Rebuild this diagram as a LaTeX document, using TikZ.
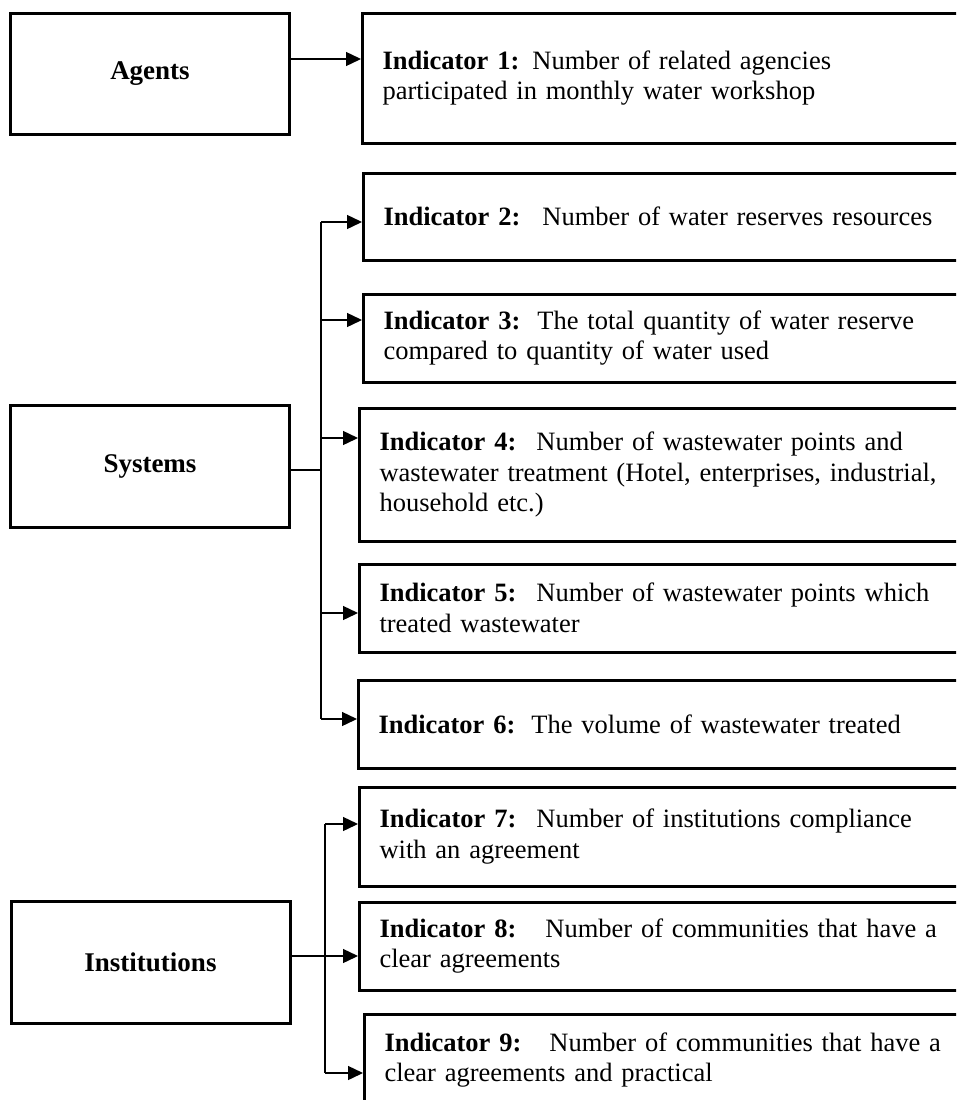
\documentclass[tikz,border=0pt]{standalone}
\usepackage{fontspec}
\setmainfont{Liberation Serif}
\usetikzlibrary{arrows.meta}
\begin{document}
\begin{tikzpicture}[x=1pt,y=-1pt,
  font=\fontsize{26.5}{30.5}\selectfont,
  catbox/.style={draw=black, line width=3pt, minimum width=279pt, minimum height=122pt, font=\fontsize{27}{30.5}\selectfont\bfseries, inner sep=0pt},
  indbox/.style={draw=black, line width=3pt, anchor=west, text width=700pt, align=left, inner xsep=20pt, inner ysep=0pt},
  link/.style={draw=black, line width=1.4pt},
  arr/.style={link, -{Triangle[length=15pt,width=14pt]}}
]
\useasboundingbox (0,0) rectangle (956,1100);
\clip (0,0) rectangle (956,1100);

% category boxes
\node[catbox, minimum height=121pt] (agents) at (150,73.5) {Agents};
\node[catbox] (sys) at (150,466) {Systems};
\node[catbox] (inst) at (150.5,962) {Institutions};

% indicator boxes
\node[indbox, minimum height=130pt] (ind1) at (361,78) {\textbf{Indicator 1:}\hspace{13pt}Number of related agencies\\participated in monthly water workshop};
\node[indbox, minimum height=87pt] (ind2) at (362,216.5) {\textbf{Indicator 2:}\hspace{22pt}Number of water reserves resources};
\node[indbox, minimum height=88pt] (ind3) at (362,338) {\textbf{Indicator 3:}\hspace{17pt}The total quantity of water reserve\\compared to quantity of water used};
\node[indbox, minimum height=133pt] (ind4) at (358,474.5) {\textbf{Indicator 4:}\hspace{20pt}Number of wastewater points and\\wastewater treatment (Hotel, enterprises, industrial,\\household etc.)};
\node[indbox, minimum height=88pt] (ind5) at (358,608) {\textbf{Indicator 5:}\hspace{20pt}Number of wastewater points which\\treated wastewater};
\node[indbox, minimum height=88pt] (ind6) at (357,724) {\textbf{Indicator 6:}\hspace{16pt}The volume of wastewater treated};
\node[indbox, minimum height=99pt] (ind7) at (358,836.5) {\textbf{Indicator 7:}\hspace{20pt}Number of institutions compliance\\with an agreement};
\node[indbox, minimum height=88pt] (ind8) at (358,946) {\textbf{Indicator 8:}\hspace{29pt}Number of communities that have a\\clear agreements};
\node[indbox, minimum height=92pt] (ind9) at (363,1060) {\textbf{Indicator 9:}\hspace{28pt}Number of communities that have a\\clear agreements and practical};

% Agents connector
\coordinate (a1) at (292,59);
\draw[arr] (agents.east |- a1) -- (ind1.west |- a1);

% Systems connectors
\coordinate (sj) at (321,470);
\coordinate (b2) at (321,222);
\coordinate (b3) at (321,320);
\coordinate (b4) at (321,438);
\coordinate (b5) at (321,613);
\coordinate (b6) at (321,719);
\draw[link] (sys.east |- sj) -- (sj);
\draw[link] (b2) -- (b6);
\draw[arr] (b2) -- (ind2.west |- b2);
\draw[arr] (b3) -- (ind3.west |- b3);
\draw[arr] (b4) -- (ind4.west |- b4);
\draw[arr] (b5) -- (ind5.west |- b5);
\draw[arr] (b6) -- (ind6.west |- b6);

% Institutions connectors
\coordinate (ij) at (325,956);
\coordinate (c7) at (325,824);
\coordinate (c9) at (325,1073);
\draw[link] (c7) -- (c9);
\draw[arr] (inst.east |- ij) -- (ind8.west |- ij);
\draw[arr] (c7) -- (ind7.west |- c7);
\draw[arr] (c9) -- (ind9.west |- c9);
\end{tikzpicture}
\end{document}
